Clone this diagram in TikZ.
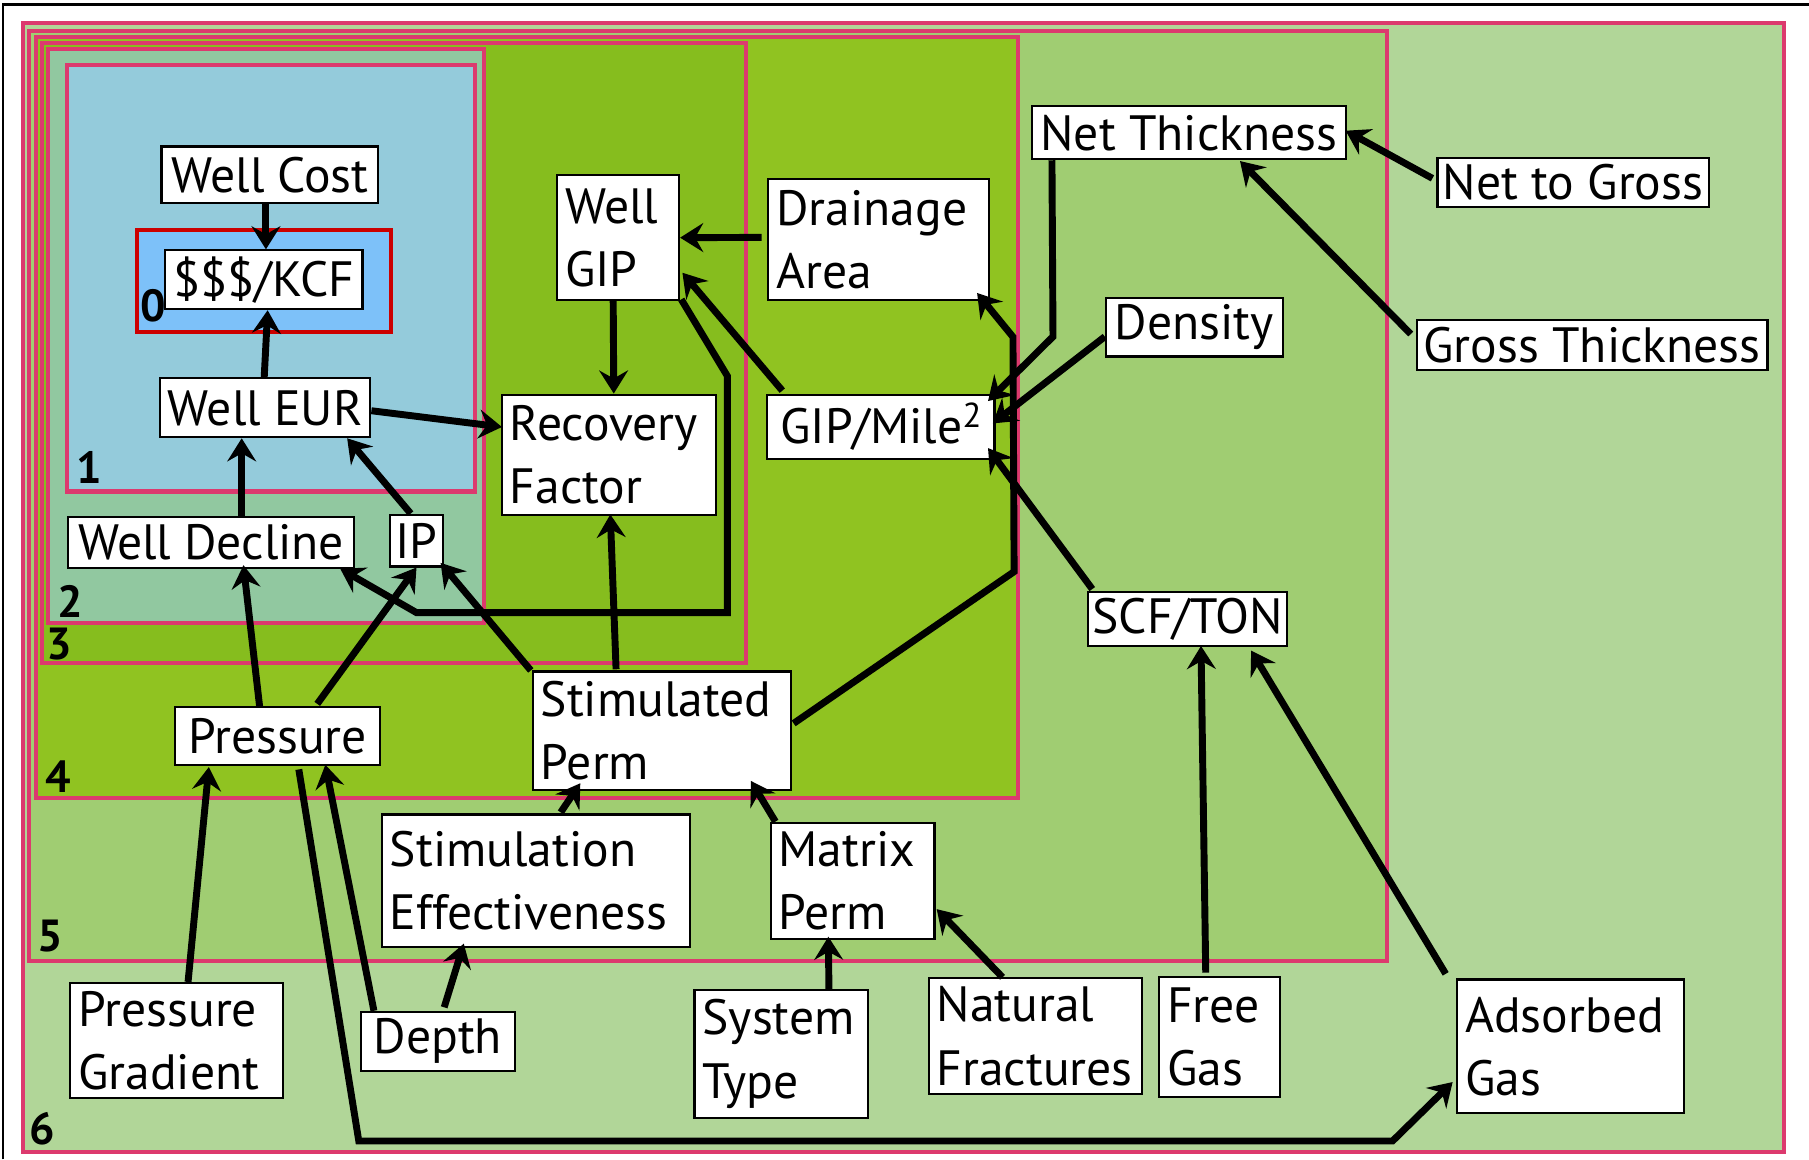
\documentclass[tikz,border=0pt]{standalone}
\usepackage{fontspec}
\setmainfont{PT Sans}
\usetikzlibrary{arrows.meta,calc}
\definecolor{pinkline}{HTML}{DC3A6E}
\definecolor{fsix}{HTML}{B1D698}
\definecolor{ffive}{HTML}{A0CD72}
\definecolor{ffour}{HTML}{90C321}
\definecolor{fthree}{HTML}{86BD1E}
\definecolor{ftwo}{HTML}{91C8A0}
\definecolor{fone}{HTML}{94CBDB}
\definecolor{fzero}{HTML}{7DC1F9}
\definecolor{redline}{HTML}{CC0000}
\begin{document}
\begin{tikzpicture}[x=1pt,y=-1pt,
 region/.style={draw=pinkline, line width=3.5pt},
 nb/.style={draw=black, line width=1.8pt, fill=white, inner sep=0pt, font=\fontsize{43pt}{55pt}\selectfont},
 ml/.style={align=left, text width=#1},
 lbl/.style={font=\bfseries\fontsize{39pt}{40pt}\selectfont, inner sep=0pt},
 arr/.style={line width=6pt, -{Stealth[length=20pt,width=25pt,inset=7pt]}},
]
\useasboundingbox (0,0) rectangle (1568,1005);
\fill[white] (0,0) rectangle (1568,1005);
\draw[line width=2pt] (2.5,1005) -- (2.5,3.8) -- (1568,3.8);
% nested regions
\draw[region, fill=fsix] (20,20) rectangle (1546,998.5);
\draw[region, fill=ffive] (25.5,26.5) rectangle (1202,833);
\draw[region, fill=ffour] (31,32) rectangle (882.5,692);
\draw[region, fill=fthree] (36.5,37) rectangle (647,574.5);
\draw[region, fill=ftwo] (42,42.5) rectangle (419.5,540);
\draw[region, fill=fone] (58.4,56) rectangle (412,426);
\draw[draw=redline, line width=3.5pt, fill=fzero] (119,199.5) rectangle (339,287.5);
% level labels
\node[lbl] (l0) at (133,265) {0};
\node[lbl] (l1) at (77.5,405) {1};
\node[lbl] (l2) at (61,521.5) {2};
\node[lbl] (l3) at (51,558) {3};
\node[lbl] (l4) at (50.5,673) {4};
\node[lbl] (l5) at (43.5,811) {5};
\node[lbl] (l6) at (37,978.5) {6};
% nodes
\node[nb, minimum width=188pt, minimum height=49pt] (wcost) at (234,151.5) {Well Cost};
\node[nb, minimum width=171pt, minimum height=51pt] (kcf) at (228.7,242.5) {\$\$\$/KCF};
\node[nb, minimum width=182pt, minimum height=51pt] (weur) at (230,353.5) {Well EUR};
\node[nb, minimum width=248pt, minimum height=44pt] (wdec) at (183,470) {Well Decline};
\node[nb, minimum width=46pt, minimum height=45pt] (ip) at (361,468.5) {IP};
\node[nb, minimum width=186pt, minimum height=104pt, ml=172pt] (recf) at (528,394) {Recovery\\Factor};
\node[nb, minimum width=105.6pt, minimum height=108pt, ml=92pt] (wgip) at (535.8,206) {Well\\GIP};
\node[nb, minimum width=191pt, minimum height=104.5pt, ml=177pt] (drain) at (761.5,207.75) {Drainage\\Area};
\node[nb, minimum width=197pt, minimum height=55.5pt] (gipm) at (763.5,369.75) {GIP/Mile\raisebox{0.33em}{\fontsize{30pt}{30pt}\selectfont 2}};
\node[nb, minimum width=272pt, minimum height=46pt] (netth) at (1030.5,115) {Net Thickness};
\node[nb, minimum width=235pt, minimum height=42.3pt] (ntg) at (1363.5,157.9) {Net to Gross};
\node[nb, minimum width=153.5pt, minimum height=50.4pt] (dens) at (1035.3,283.8) {Density};
\node[nb, minimum width=304pt, minimum height=44pt] (gross) at (1380,299) {Gross Thickness};
\node[nb, minimum width=172.5pt, minimum height=47pt] (scf) at (1029.3,536.5) {SCF/TON};
\node[nb, minimum width=223.5pt, minimum height=103pt, ml=210pt] (stimp) at (573.75,633.5) {Stimulated\\Perm};
\node[nb, minimum width=177pt, minimum height=50pt] (press) at (240.5,638) {Pressure};
\node[nb, minimum width=267pt, minimum height=115pt, ml=253pt] (stimeff) at (464.5,763.5) {Stimulation\\Effectiveness};
\node[nb, minimum width=142pt, minimum height=101pt, ml=128pt] (matp) at (739,763.5) {Matrix\\Perm};
\node[nb, minimum width=184pt, minimum height=100pt, ml=170pt] (pgrad) at (153,902) {Pressure\\Gradient};
\node[nb, minimum width=133pt, minimum height=51pt] (depth) at (379.5,902.5) {Depth};
\node[nb, minimum width=150pt, minimum height=111pt, ml=136pt] (systype) at (677,913.5) {System\\Type};
\node[nb, minimum width=185pt, minimum height=100pt, ml=171pt] (natfr) at (897.5,898) {Natural\\Fractures};
\node[nb, minimum width=105pt, minimum height=104pt, ml=91pt] (freegas) at (1057.1,899) {Free\\Gas};
\node[nb, minimum width=197pt, minimum height=116pt, ml=183pt] (adsgas) at (1361.5,907) {Adsorbed\\Gas};
% connectors
\draw[arr] ($(wcost.south)+(-3.5,0)$) -- ($(kcf.north)+(1.8,0)$);
\draw[arr] ($(weur.north)+(-1,0)$) -- ($(kcf.south)+(3.3,0)$);
\draw[arr] ($(weur.east)+(0,2.5)$) -- ($(recf.north west)+(1,29)$);
\draw[arr] ($(wdec.north)+(26.5,0)$) -- ($(weur.south)+(-20.5,0)$);
\draw[arr] ($(ip.north)+(-5,0)$) -- ($(weur.south east)+(-21,0)$);
\draw[arr] ($(wgip.south)+(-4.3,0)$) -- ($(recf.north)+(4,0)$);
\draw[arr] ($(drain.west)+(-5,-2)$) -- (wgip.east);
\draw[arr] ($(gipm.north west)+(14,-2.5)$) -- ($(wgip.south east)+(2,-24.5)$);
\draw[arr] ($(stimp.east)+(1.5,-6.5)$) -- (879,495.5) -- (878,292) -- ($(drain.south east)+(-11,-7)$);
\draw[arr] ($(netth.south west)+(18.2,0)$) -- (912.7,291.8) -- ($(gipm.north east)+(-6.5,6.5)$);
\draw[arr] ($(dens.west)+(0,8)$) -- ($(gipm.east)+(-2.4,-2.75)$);
\draw[arr] ($(scf.north west)+(4.6,-1.5)$) -- ($(gipm.south east)+(-6.5,-10)$);
\draw[arr] ($(ntg.west)+(-3.5,-3.3)$) -- ($(netth.east)+(-1,-1.7)$);
\draw[arr] ($(gross.west)+(-4.3,-9.5)$) -- ($(netth.south)+(44.3,0.7)$);
\draw[arr] ($(freegas.north)+(-12,-3)$) -- ($(scf.south)+(11.7,-1)$);
\draw[arr] ($(adsgas.north west)+(-9,-4)$) -- ($(scf.south east)+(-32,3)$);
\draw[arr] ($(stimp.north)+(-39.75,-1)$) -- ($(recf.south)+(1,-1)$);
\draw[arr] ($(stimp.north west)+(-1,0)$) -- ($(ip.south east)+(-3,-4)$);
\draw[arr] ($(wgip.south east)+(1,-1.4)$) -- (630.5,326) -- (630.5,531) -- (361,531) -- ($(wdec.south east)+(-13,0)$);
\draw[arr] ($(press.north)+(-15.5,0)$) -- ($(wdec.south)+(28,-3)$);
\draw[arr] ($(press.north)+(34.5,-2)$) -- (ip.south);
\draw[arr] ($(pgrad.north)+(10,0)$) -- ($(press.south)+(-59.5,1)$);
\draw[arr] ($(depth.north west)+(12,0)$) -- ($(press.south)+(41.5,-1)$);
\draw[arr] ($(depth.north)+(5.5,-3)$) -- ($(stimeff.south)+(-62.5,-4)$);
\draw[arr] ($(press.south)+(18.5,3)$) -- (311,989) -- (1207,989) -- ($(adsgas.south west)+(-3,-28)$);
\draw[arr] ($(stimeff.north)+(21.5,-1)$) -- ($(stimp.south)+(-70.75,-7)$);
\draw[arr] ($(matp.north west)+(5,0)$) -- ($(stimp.south east)+(-35.5,-9)$);
\draw[arr] ($(systype.north)+(41.5,0)$) -- ($(matp.south)+(-21,-3)$);
\draw[arr] ($(natfr.north)+(-28.5,0)$) -- ($(matp.east)+(1,24.5)$);
\end{tikzpicture}
\end{document}
